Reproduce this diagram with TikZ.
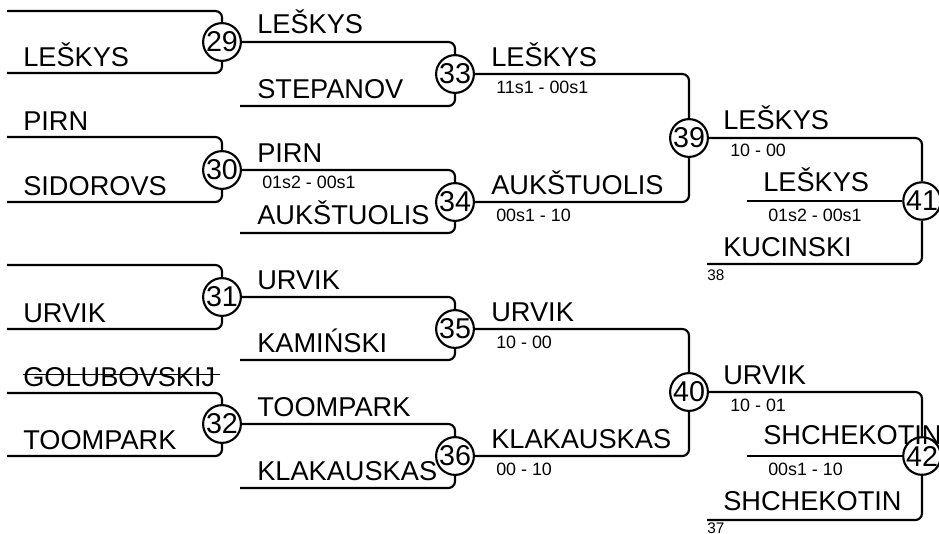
\documentclass[tikz,border=0pt]{standalone}
\usepackage{fontspec}
\setmainfont{Liberation Sans}
\begin{document}
\begin{tikzpicture}[x=0.75pt,y=-0.75pt,
  br/.style={line width=1.6pt,rounded corners=5pt},
  circ/.style={circle,draw,line width=1.6pt,fill=white,minimum size=25.5pt,inner sep=0pt,font=\fontsize{21.5}{21.5}\selectfont},
  nm/.style={anchor=base west,inner sep=0pt,font=\fontsize{20.4}{20.4}\selectfont},
  sc/.style={anchor=base west,inner sep=0pt,font=\fontsize{13.4}{13.4}\selectfont},
  sm/.style={anchor=base west,inner sep=0pt,font=\fontsize{11.5}{11.5}\selectfont}]
\useasboundingbox (0,0) rectangle (939,533);
% match circles
\node[circ] (m29) at (222,42) {29};
\node[circ] (m30) at (222,170) {30};
\node[circ] (m31) at (222,297) {31};
\node[circ] (m32) at (222,424) {32};
\node[circ] (m33) at (455,74) {33};
\node[circ] (m34) at (455,202) {34};
\node[circ] (m35) at (455,329) {35};
\node[circ] (m36) at (455,456) {36};
\node[circ] (m39) at (689,138) {39};
\node[circ] (m40) at (689,392) {40};
\node[circ] (m41) at (922,201) {41};
\node[circ] (m42) at (922,456) {42};
% free line ends
\coordinate (s29a) at (7,11);
\coordinate (s29b) at (7,73);
\coordinate (s30a) at (7,137);
\coordinate (s30b) at (7,202);
\coordinate (s31a) at (7,265);
\coordinate (s31b) at (7,329);
\coordinate (s32a) at (7,393);
\coordinate (s32b) at (7,456);
\coordinate (s33b) at (240,106);
\coordinate (s34b) at (240,233);
\coordinate (s35b) at (240,360);
\coordinate (s36b) at (240,488);
\coordinate (s41m) at (747,201);
\coordinate (s41b) at (707,264);
\coordinate (s42m) at (747,456);
\coordinate (s42b) at (707,520);
% round 1
\draw[br] (s29a) -| (m29.north);
\draw[br] (s29b) -| (m29.south);
\draw[br] (s30a) -| (m30.north);
\draw[br] (s30b) -| (m30.south);
\draw[br] (s31a) -| (m31.north);
\draw[br] (s31b) -| (m31.south);
\draw[br] (s32a) -| (m32.north);
\draw[br] (s32b) -| (m32.south);
% round 2
\draw[br] (m29.east) -| (m33.north);
\draw[br] (s33b) -| (m33.south);
\draw[br] (m30.east) -| (m34.north);
\draw[br] (s34b) -| (m34.south);
\draw[br] (m31.east) -| (m35.north);
\draw[br] (s35b) -| (m35.south);
\draw[br] (m32.east) -| (m36.north);
\draw[br] (s36b) -| (m36.south);
% round 3
\draw[br] (m33.east) -| (m39.north);
\draw[br] (m34.east) -| (m39.south);
\draw[br] (m35.east) -| (m40.north);
\draw[br] (m36.east) -| (m40.south);
% round 4
\draw[br] (m39.east) -| (m41.north);
\draw[br] (s41m) -- (m41.west);
\draw[br] (s41b) -| (m41.south);
\draw[br] (m40.east) -| (m42.north);
\draw[br] (s42m) -- (m42.west);
\draw[br] (s42b) -| (m42.south);
% round 1 names
\node[nm] (t1) at (23,66) {LEŠKYS};
\node[nm] (t2) at (23,130) {PIRN};
\node[nm] (t3) at (23,195) {SIDOROVS};
\node[nm] (t4) at (23,322) {URVIK};
\node[nm] (t5) at (23,386) {GOLUBOVSKIJ};
\draw[line width=1.2pt] ([yshift=8.5pt]t5.base west) -- ([yshift=8.5pt,xshift=3pt]t5.base east);
\node[nm] (t6) at (23,449) {TOOMPARK};
% round 2 names
\node[nm] (u1) at (257,33) {LEŠKYS};
\node[nm] (u2) at (257,98) {STEPANOV};
\node[nm] (u3) at (257,162) {PIRN};
\node[sc] (u3s) at (262,188) {01s2 - 00s1};
\node[nm] (u4) at (257,224) {AUKŠTUOLIS};
\node[nm] (u5) at (257,289) {URVIK};
\node[nm] (u6) at (257,352) {KAMIŃSKI};
\node[nm] (u7) at (257,416) {TOOMPARK};
\node[nm] (u8) at (257,480) {KLAKAUSKAS};
% round 3 names
\node[nm] (v1) at (491,66) {LEŠKYS};
\node[sc] (v1s) at (496,93) {11s1 - 00s1};
\node[nm] (v2) at (491,194) {AUKŠTUOLIS};
\node[sc] (v2s) at (496,221) {00s1 - 10};
\node[nm] (v3) at (491,321) {URVIK};
\node[sc] (v3s) at (496,348) {10 - 00};
\node[nm] (v4) at (491,448) {KLAKAUSKAS};
\node[sc] (v4s) at (496,475) {00 - 10};
% round 4 names
\node[nm] (w1) at (723,129) {LEŠKYS};
\node[sc] (w1s) at (730,156) {10 - 00};
\node[nm] (w2) at (763,191) {LEŠKYS};
\node[sc] (w2s) at (768,221) {01s2 - 00s1};
\node[nm] (w3) at (723,256) {KUCINSKI};
\node[sm] (w3s) at (707,280) {38};
\node[nm] (x1) at (723,384) {URVIK};
\node[sc] (x1s) at (730,411) {10 - 01};
\node[nm] (x2) at (763,444) {SHCHEKOTIN};
\node[sc] (x2s) at (768,475) {00s1 - 10};
\node[nm] (x3) at (723,510) {SHCHEKOTIN};
\node[sm] (x3s) at (707,533) {37};
\end{tikzpicture}
\end{document}
